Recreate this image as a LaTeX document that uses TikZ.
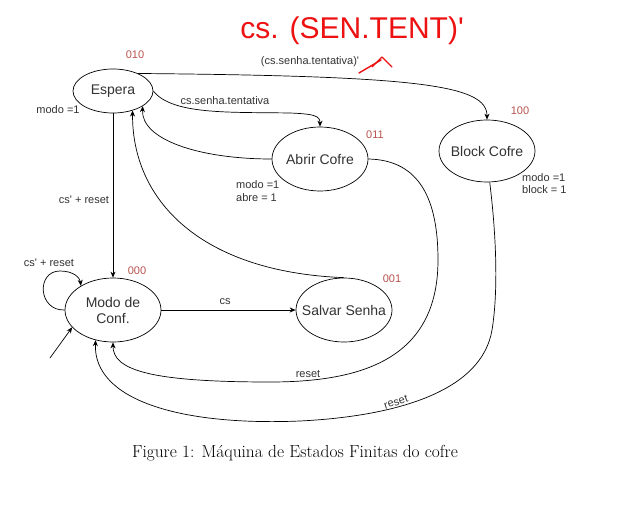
\documentclass[tikz,border=0pt]{standalone}
\usepackage{fontspec}
\newfontfamily\arial[Ligatures=TeXOff]{Liberation Sans}
\usetikzlibrary{shapes.geometric,arrows.meta}
\definecolor{codered}{HTML}{B85450}
\definecolor{inkred}{HTML}{EE1111}
\begin{document}
\begin{tikzpicture}[x=1pt,y=-1pt,
 state/.style={draw,ellipse,inner sep=0pt,line width=0.7pt},
 stext/.style={font=\arial\fontsize{14}{16}\selectfont,align=center,inner sep=0pt,text=black!80},
 lbl/.style={font=\arial\fontsize{11}{13}\selectfont,inner sep=0pt,align=left,text=black!80},
 code/.style={font=\arial\fontsize{11}{12}\selectfont,text=codered,inner sep=0pt},
 edge/.style={line width=0.7pt,-{Stealth[length=6pt,width=5pt]}},
 ink/.style={inkred,line width=1.4pt,line cap=round,line join=round},
]
\useasboundingbox[fill=white] (0,0) rectangle (619,530);
% states
\node[state,minimum width=80pt,minimum height=44pt,label={[stext]center:Espera}] (esp) at (113,91) {};
\node[state,minimum width=96pt,minimum height=64pt,label={[stext]center:Abrir Cofre}] (abr) at (320,159) {};
\node[state,minimum width=96pt,minimum height=62pt,label={[stext]center:Block Cofre}] (blk) at (487,151) {};
\node[state,minimum width=96pt,minimum height=64pt,label={[stext]center:Modo de\\Conf.}] (modo) at (113,310) {};
\node[state,minimum width=96pt,minimum height=64pt,label={[stext]center:Salvar Senha}] (sav) at (344,310) {};
% codes
\node[code] (c010) at (135,55) {010};
\node[code] (c011) at (375,135) {011};
\node[code] (c100) at (520,111) {100};
\node[code] (c000) at (137,271) {000};
\node[code] (c001) at (392,279) {001};
% labels
\node[lbl] (l1) at (58,110) {modo =1};
\node[lbl] (l2) at (225,101) {cs.senha.tentativa};
\node[lbl] (l3) at (310,62) {(cs.senha.tentativa)'};
\node[lbl] (l4) at (84,200) {cs' + reset};
\node[lbl] (l5) at (49,263) {cs' + reset};
\node[lbl,anchor=west] (l6) at (236,191.5) {modo =1\\abre = 1};
\node[lbl,anchor=west,font=\arial\fontsize{11}{12}\selectfont] (l7) at (522,184) {modo =1\\block = 1};
\node[lbl] (l8) at (225,302) {cs};
\node[lbl] (l9) at (308,374) {reset};
\node[lbl,rotate=18] (l10) at (396,402) {reset};
% caption
\node[font=\fontsize{17.4}{20}\selectfont,inner sep=0pt] (cap) at (295,453) {Figure 1: Máquina de Estados Finitas do cofre};
% red annotation
\node[text=inkred,font=\arial\fontsize{30}{31}\selectfont,inner sep=0pt] (ann) at (352,31) {cs. (SEN.TENT)'};
\coordinate (a0) at (359,73);
\coordinate (a1) at (381,60);
\coordinate (aL) at (372,67);
\coordinate (aT) at (382,57);
\coordinate (aR) at (392,67);
\draw[ink] (a0) -- (a1);
\draw[ink] (aL) -- (aT) -- (aR);
% edges
\draw[edge] (esp.35) .. controls (420,76) and (487,85) .. (blk.north);
\draw[edge] (esp.0) .. controls (172,115) and (230,112) .. (290,113) .. controls (315,114) and (320,116) .. (abr.north);
\draw[edge] (abr.west) .. controls (200,159) and (141,140) .. (esp.-27);
\draw[edge] (sav.north) .. controls (200,272) and (132,200) .. (esp.-45);
\draw[edge] (esp.south) -- (modo.north);
\draw[edge] (modo.180) .. controls (38,311) and (36,271) .. (60,271) .. controls (74,271) and (80,278) .. (modo.143);
\coordinate (init) at (50,358);
\draw[edge] (init) -- (modo.203);
\draw[edge] (modo.east) -- (sav.west);
\draw[edge] (abr.east) .. controls (420,160) and (438,200) .. (438,260) .. controls (438,360) and (360,382) .. (270,382) .. controls (150,382) and (113,370) .. (modo.south);
\draw[edge] (blk.-85) .. controls (498,250) and (497,300) .. (492,330) .. controls (482,390) and (400,416) .. (300,421) .. controls (180,426) and (93,400) .. (modo.240);
\end{tikzpicture}
\end{document}
